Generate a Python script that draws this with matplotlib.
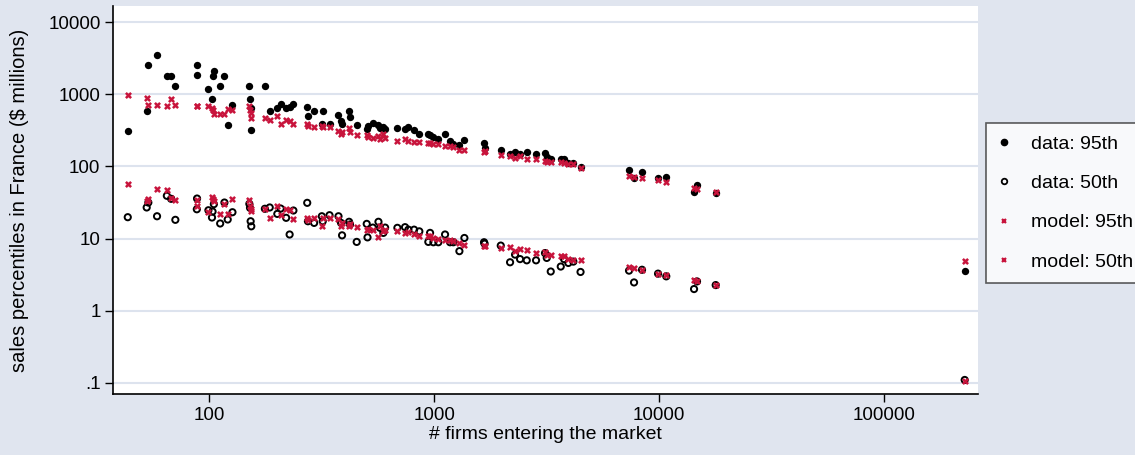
import matplotlib
matplotlib.use('Agg')
import matplotlib.pyplot as plt
from matplotlib.lines import Line2D

plt.rcParams['font.family'] = ['Liberation Sans', 'DejaVu Sans']

# number of entering firms per market
n_firms = [43.5, 52.8, 53.7, 58.7, 64.9, 67.8, 70.8, 88.2, 88.4, 99.3,
           103, 103.6, 105, 112, 117, 121, 127, 151, 152, 153,
           154, 177, 186, 201, 208, 220, 228, 237, 273, 275,
           293, 317, 320, 343, 376, 386, 390, 419, 423, 453,
           502, 506, 534, 566, 575, 595, 606, 687, 743, 769,
           815, 860, 943, 960, 993, 1045, 1119, 1178, 1218, 1296,
           1364, 1668, 1677, 1979, 2177, 2291, 2411, 2582, 2840, 3113,
           3169, 3301, 3657, 3784, 3953, 4160, 4478, 7356, 7743, 8402,
           9900, 10770, 14310, 14750, 17860, 228400]

data_p95 = [309, 586, 2552, 3480, 1762, 1762, 1321, 1819, 2552, 1200,
            852, 1762, 2067, 1321, 1762, 371, 719, 1321, 852, 653,
            323, 1321, 581, 653, 726, 639, 675, 726, 675, 500,
            586, 392, 586, 392, 511, 426, 383, 586, 480, 371,
            327, 359, 396, 371, 345, 356, 327, 345, 327, 356,
            319, 278, 278, 270, 259, 243, 278, 225, 202, 196,
            232, 209, 182, 168, 147, 160, 147, 158, 147, 155,
            136, 125, 125, 128, 113, 113, 99, 88, 69.7, 83.3,
            69.7, 70.4, 44.5, 55, 43.1, 3.59]

data_p50 = [19.8, 27, 31.6, 20.4, 39.2, 35.6, 18.2, 25.5, 35.9, 24.7,
            19.6, 23.7, 30, 16.2, 31.6, 18.4, 23.2, 30.3, 26.7, 17.4,
            14.8, 25.9, 27, 22, 26.1, 19.4, 11.4, 24.5, 31.3, 17.4,
            16.5, 20.4, 17.4, 21.1, 20.4, 16.5, 11.1, 17.1, 15.7, 9.0,
            16, 10.4, 14.2, 17.1, 14.1, 12, 14.2, 14.1, 14.4, 13.3,
            13.3, 12.6, 9.0, 12, 8.9, 8.9, 11.4, 8.9, 8.9, 6.7,
            10.2, 8.9, 8.5, 8.0, 4.7, 6.0, 5.2, 5.0, 5.0, 6.3,
            5.4, 3.5, 4.1, 5.2, 4.6, 4.8, 3.45, 3.6, 2.47, 3.7,
            3.27, 3.0, 2.0, 2.55, 2.27, 0.11]

model_p95 = [978, 900, 719, 719, 697, 852, 719, 688, 688, 688,
             653, 605, 539, 539, 539, 619, 605, 688, 605, 545,
             475, 475, 435, 500, 383, 440, 426, 383, 392, 363,
             351, 363, 356, 356, 309, 278, 297, 345, 300, 270,
             270, 253, 250, 264, 237, 278, 250, 225, 237, 225,
             218, 218, 209, 209, 202, 202, 191, 191, 188, 168,
             168, 158, 162, 142, 139, 132, 139, 128, 128, 119,
             115, 115, 114, 113, 109, 107, 96, 73.3, 71, 69.7,
             63.9, 60.5, 50.6, 48, 44, 4.95]

model_p50 = [56.2, 33.7, 35.9, 48, 46.4, 36.8, 34.8, 34.8, 28.7, 23.7,
             38.3, 35.6, 33, 22, 29.7, 22, 35.9, 34, 28, 25.9,
             23.9, 25.9, 19.4, 28, 20.9, 26.1, 25.3, 18.8, 19.4, 18,
             19.4, 14.8, 19.4, 19.4, 18.8, 14.8, 16.2, 14.8, 15.7, 14.4,
             13.3, 13.8, 13.3, 10.4, 14.8, 12.6, 13.3, 12.6, 12, 12.5,
             11.6, 10.8, 10.8, 10.8, 10.2, 9.9, 9.7, 9.5, 9.2, 8.7,
             8.25, 7.8, 8.0, 7.4, 7.7, 6.7, 7.2, 6.9, 6.3, 6.45,
             6.0, 6.0, 5.8, 5.7, 5.2, 5.1, 5.1, 4.1, 3.9, 3.7,
             3.27, 3.13, 2.64, 2.55, 2.27, 0.107]

y_ticks = [0.1, 1, 10, 100, 1000, 10000]
y_tick_labels = ['.1', '1', '10', '100', '1000', '10000']
x_ticks = [100, 1000, 10000, 100000]
x_tick_labels = ['100', '1000', '10000', '100000']
legend_labels = ['data: 95th', 'data: 50th', 'model: 95th', 'model: 50th']

bg = '#E0E5EF'
red = '#C8143C'
W, H = 1135, 455

fig = plt.figure(figsize=(W / 100, H / 100), dpi=100, facecolor=bg)
ax = fig.add_axes([113 / W, 1 - 394 / H, 865 / W, 388 / H])
ax.set_facecolor('white')

ax.scatter(n_firms, data_p95, s=28, color='black', marker='o', linewidths=0, zorder=3)
ax.scatter(n_firms, data_p50, s=20, facecolors='none', edgecolors='black',
           marker='o', linewidths=1.4, zorder=3)
ax.scatter(n_firms, model_p95, s=14, color=red, marker='x', linewidths=1.8, zorder=4)
ax.scatter(n_firms, model_p50, s=14, color=red, marker='x', linewidths=1.8, zorder=4)

ax.set_xscale('log')
ax.set_yscale('log')
ax.set_xlim(37.4, 261700)
ax.set_ylim(0.0703, 16700)

ax.set_yticks(y_ticks)
ax.set_yticklabels(y_tick_labels)
ax.set_xticks(x_ticks)
ax.set_xticklabels(x_tick_labels)
ax.minorticks_off()
ax.tick_params(axis='both', direction='out', length=6, width=1, labelsize=13.5, pad=3)
ax.yaxis.grid(True, color='#DDE3EE', linewidth=1.5)
ax.set_axisbelow(True)

for side in ['top', 'right']:
    ax.spines[side].set_visible(False)
for side in ['left', 'bottom']:
    ax.spines[side].set_linewidth(1.2)
    ax.spines[side].set_color('black')

ax.set_xlabel('# firms entering the market', fontsize=14, labelpad=2)
ax.set_ylabel('sales percentiles in France ($ millions)', fontsize=14.5, labelpad=14)

handles = [
    Line2D([], [], linestyle='none', marker='o', color='black', markersize=4.5),
    Line2D([], [], linestyle='none', marker='o', markerfacecolor='none',
           markeredgecolor='black', markeredgewidth=1.3, markersize=4),
    Line2D([], [], linestyle='none', marker='x', color=red, markersize=3.5, markeredgewidth=1.6),
    Line2D([], [], linestyle='none', marker='x', color=red, markersize=3.5, markeredgewidth=1.6),
]
leg = fig.legend(handles, legend_labels, loc='upper left',
                 bbox_to_anchor=(986 / W, 1 - 123 / H), fontsize=14,
                 frameon=True, fancybox=False, edgecolor='#333333',
                 labelspacing=1.12, handlelength=0.6, handletextpad=1.1,
                 borderpad=0.62, borderaxespad=0)
leg.get_frame().set_linewidth(1.2)

fig.savefig('out.png', dpi=100, facecolor=bg)
